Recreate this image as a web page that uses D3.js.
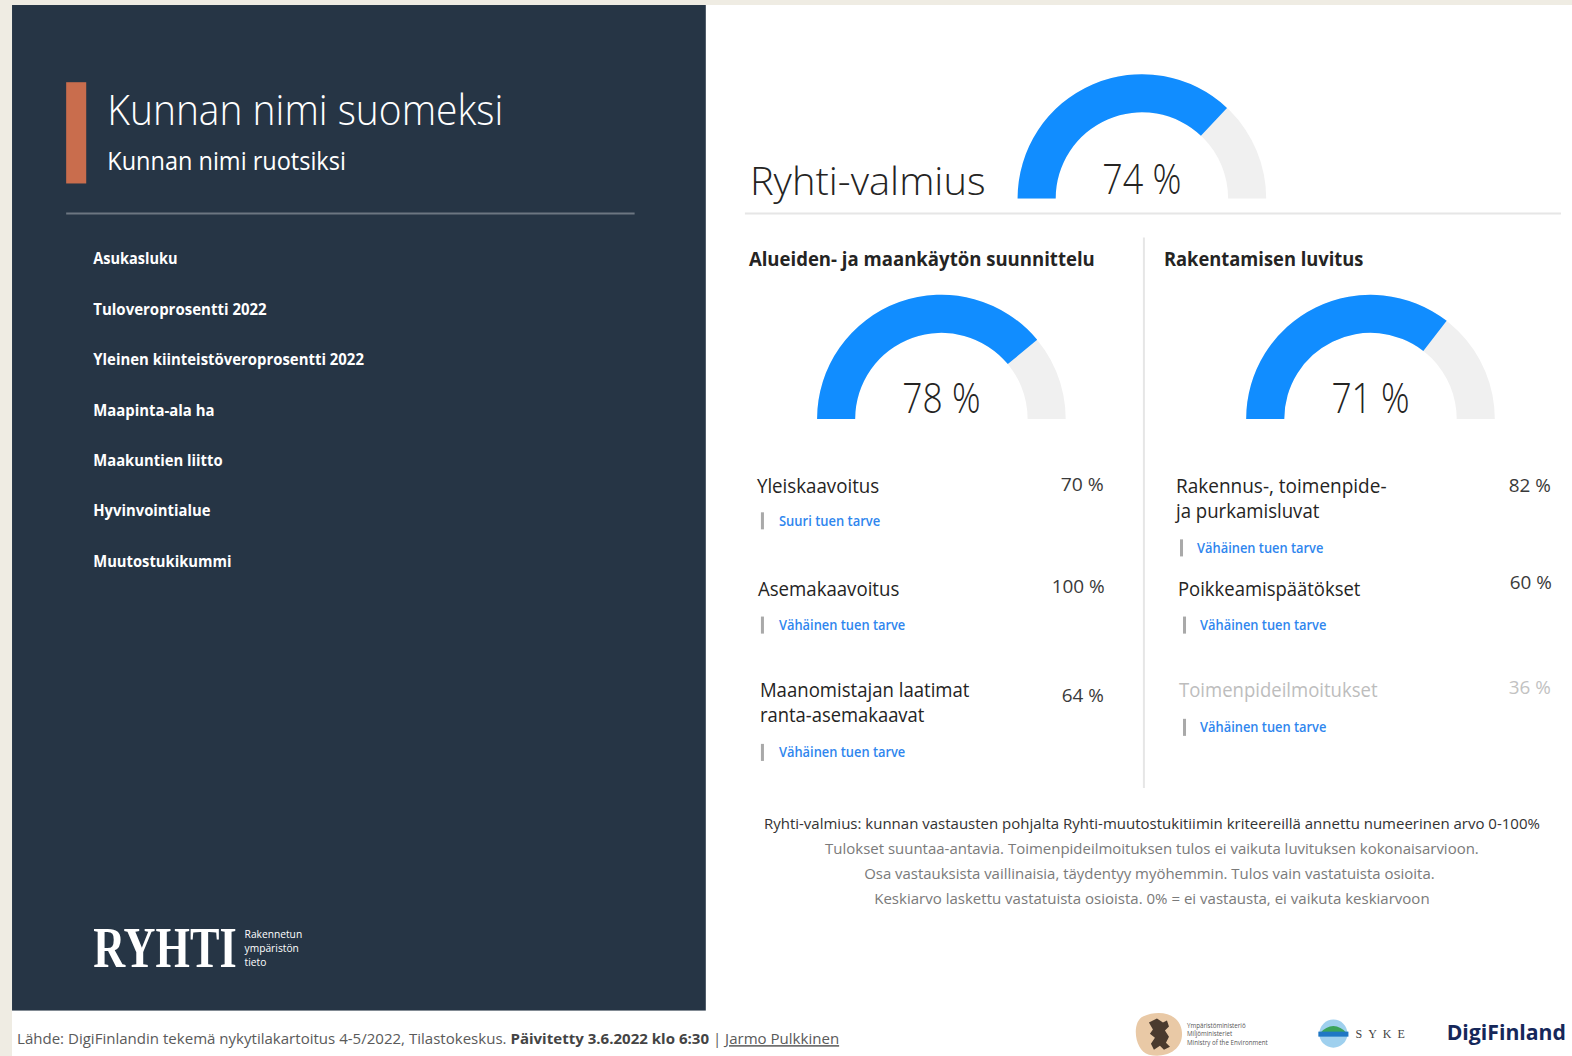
<!DOCTYPE html>
<html><head><meta charset="utf-8">
<script src="https://cdn.jsdelivr.net/npm/d3@7/dist/d3.min.js"></script>
<style>
body{margin:0;background:#efece3;}
svg{display:block;}
</style></head>
<body>
<svg id="c" width="1572" height="1056"></svg>
<script>
// ---------- DATA ----------
const municipalityName = "Kunnan nimi suomeksi";
const municipalityNameSv = "Kunnan nimi ruotsiksi";
const sideLabels = ["Asukasluku","Tuloveroprosentti 2022","Yleinen kiinteistöveroprosentti 2022","Maapinta-ala ha","Maakuntien liitto","Hyvinvointialue","Muutostukikummi"];
const overallLabel = "Ryhti-valmius";
const overallValue = 74;
const sectionTitles = ["Alueiden- ja maankäytön suunnittelu","Rakentamisen luvitus"];
const sectionValues = [78, 71];
const itemSections = [0,0,0,1,1,1];
const itemNames = [["Yleiskaavoitus"],["Asemakaavoitus"],["Maanomistajan laatimat","ranta-asemakaavat"],["Rakennus-, toimenpide-","ja purkamisluvat"],["Poikkeamispäätökset"],["Toimenpideilmoitukset"]];
const itemValues = [70,100,64,82,60,36];
const itemNeeds = ["Suuri tuen tarve","Vähäinen tuen tarve","Vähäinen tuen tarve","Vähäinen tuen tarve","Vähäinen tuen tarve","Vähäinen tuen tarve"];
const itemMuted = [false,false,false,false,false,true];
const footnotes = ["Ryhti-valmius: kunnan vastausten pohjalta Ryhti-muutostukitiimin kriteereillä annettu numeerinen arvo 0-100%","Tulokset suuntaa-antavia. Toimenpideilmoituksen tulos ei vaikuta luvituksen kokonaisarvioon.","Osa vastauksista vaillinaisia, täydentyy myöhemmin. Tulos vain vastatuista osioita.","Keskiarvo laskettu vastatuista osioista. 0% = ei vastausta, ei vaikuta keskiarvoon"];
const sourceParts = ["Lähde: DigiFinlandin tekemä nykytilakartoitus 4-5/2022, Tilastokeskus. ","Päivitetty 3.6.2022 klo 6:30"," | ","Jarmo Pulkkinen"];

// ---------- LAYOUT ----------
const root = d3.select("#c");
root.append("rect").attr("x",0).attr("y",0).attr("width",1572).attr("height",1056).attr("fill","#efece3");
const svg = root.append("g").attr("transform","scale(1.00255)")
  .style("font-family","'Segoe UI','Open Sans','Noto Sans',sans-serif");
const BLUE = "#118DFF", GREY = "#F0F0F0";
function fitW(t, w){ t.attr("textLength", w).attr("lengthAdjust","spacingAndGlyphs"); return t; }

// backgrounds
svg.append("rect").attr("x",12).attr("y",5).attr("width",1560).attr("height",1051).attr("fill","#ffffff");
svg.append("rect").attr("x",12).attr("y",5).attr("width",692).attr("height",1003).attr("fill","#263545");

// left panel
svg.append("rect").attr("x",66).attr("y",82).attr("width",20).attr("height",101).attr("fill","#c96d4d");
fitW(svg.append("text").attr("x",107).attr("y",125).attr("font-size",42).attr("font-weight",300).attr("fill","#fff").text(municipalityName),395);
fitW(svg.append("text").attr("x",107).attr("y",170).attr("font-size",25).attr("font-weight",400).attr("fill","#fff").text(municipalityNameSv),238);
svg.append("line").attr("x1",66).attr("x2",633).attr("y1",213).attr("y2",213).attr("stroke","#6c7681").attr("stroke-width",2);

const sideW = [84,173,270,121,129,117,138];
const sideY = d3.scaleLinear().domain([0, sideLabels.length-1]).range([263.5, 565.5]);
svg.selectAll("text.side").data(sideLabels).join("text").attr("class","side")
  .attr("x",93).attr("y",(d,i)=>sideY(i)).attr("font-size",15.5).attr("font-weight",700).attr("fill","#fff")
  .attr("textLength",(d,i)=>sideW[i]).attr("lengthAdjust","spacingAndGlyphs").text(d=>d);

// RYHTI logo
const ry = svg.append("g").attr("transform","translate(93,965) scale(1,1.3)");
fitW(ry.append("text").attr("x",0).attr("y",0).style("font-family","'Liberation Serif','DejaVu Serif',serif").attr("font-size",43.5).attr("font-weight",700).attr("fill","#fff").text("RYHTI"),143);
["Rakennetun","ympäristön","tieto"].forEach((s,i)=>{
  svg.append("text").attr("x",244).attr("y",936+i*14).attr("font-size",10.2).attr("fill","#fff").text(s);
});

// right panel
const pct = d3.scaleLinear().domain([0,100]).range([-Math.PI/2, Math.PI/2]);
const arc = d3.arc().innerRadius(86).outerRadius(124);
function gauge(cx, cy, v, lbl, labelW){
  const g = svg.append("g").attr("transform",`translate(${cx},${cy})`);
  g.append("path").attr("d", arc({startAngle:pct(0), endAngle:pct(100)})).attr("fill",GREY);
  g.append("path").attr("d", arc({startAngle:pct(0), endAngle:pct(v)})).attr("fill",BLUE);
  fitW(g.append("text").attr("x",0).attr("y",lbl).attr("text-anchor","middle").attr("font-size",43).attr("font-weight",300).attr("fill","#252423").text(v+" %"), labelW);
}
fitW(svg.append("text").attr("x",748).attr("y",195).attr("font-size",39).attr("font-weight",300).attr("fill","#252423").text(overallLabel),235);
gauge(1139, 198, overallValue, -5, 79);
svg.append("line").attr("x1",743).attr("x2",1557).attr("y1",213).attr("y2",213).attr("stroke","#e6e6e6").attr("stroke-width",2);
svg.append("line").attr("x1",1141).attr("x2",1141).attr("y1",237).attr("y2",786).attr("stroke","#e6e6e6").attr("stroke-width",2);

const secX = [747, 1161], secW = [345, 199], gaugeX = [939, 1367];
sectionTitles.forEach((t,i)=>{
  fitW(svg.append("text").attr("x",secX[i]).attr("y",265).attr("font-size",19).attr("font-weight",700).attr("fill","#252423").text(t), secW[i]);
  gauge(gaugeX[i], 418, sectionValues[i], -6, 78);
});

// items
const nameX = [755,756,758,1173,1175,1176];
const nameY = [492,594,695,492,594,695];
const nameW = [[122],[141],[209,164],[210,143],[182],[198]];
const valRight = [1101,1102,1101,1547,1548,1547];
const valY = [490,591,700,491,588,692];
const valW = [43,53,42,42,42,42];
const barX = [759,759,759,1177,1180,1180];
const barY = [511,615,742,538,615,717];
const needX = [777,777,777,1194,1197,1197];
const needW = [101,126,126,126,126,126];
itemNames.forEach((lines,i)=>{
  const col = itemMuted[i] ? "#bdbdbd" : "#252423";
  lines.forEach((ln,j)=>{
    fitW(svg.append("text").attr("x",nameX[i]).attr("y",nameY[i]+j*25).attr("font-size",19.5).attr("fill",col).text(ln), nameW[i][j]);
  });
  fitW(svg.append("text").attr("x",valRight[i]).attr("y",valY[i]).attr("text-anchor","end").attr("font-size",18).attr("fill",itemMuted[i]?"#c2c2c2":"#3a3a3a").text(itemValues[i]+" %"), valW[i]);
  svg.append("rect").attr("x",barX[i]).attr("y",barY[i]).attr("width",3).attr("height",17).attr("fill","#a9a9a9");
  fitW(svg.append("text").attr("x",needX[i]).attr("y",barY[i]+13.5).attr("font-size",13.5).attr("font-weight",600).attr("fill","#2f86ee").text(itemNeeds[i]), needW[i]);
});

// footnotes
const fnY = [827,851.5,876.5,902], fnW = [774,652,569,554], fnX=[1149,1149,1146.5,1149];
footnotes.forEach((f,i)=>{
  fitW(svg.append("text").attr("x",fnX[i]).attr("y",fnY[i]).attr("text-anchor","middle").attr("font-size",15).attr("fill",i===0?"#333":"#7a7a7a").text(f), fnW[i]);
});

// footer source
const src = svg.append("text").attr("x",17).attr("y",1041.5).attr("font-size",15).attr("fill","#5a5a5a");
src.append("tspan").text(sourceParts[0]);
src.append("tspan").attr("font-weight",700).attr("fill","#444").text(sourceParts[1]);
src.append("tspan").text(sourceParts[2]);
src.append("tspan").attr("text-decoration","underline").text(sourceParts[3]);
fitW(src, 820);

// logos
const lg = svg.append("g");
lg.append("path").attr("d","M1140,1014 C1158,1006 1178,1012 1179,1030 C1180,1048 1162,1056 1146,1052 C1132,1049 1128,1020 1140,1014 Z").attr("fill","#e9c9a6");
lg.append("path").attr("d","M1146,1020 l8,-4 l6,4 l4,-2 l2,6 l-4,4 l4,6 l-3,6 l4,4 l-6,3 l-4,-4 l-6,4 l-3,-6 l4,-6 l-5,-4 l3,-4 Z").attr("fill","#4a3a2e");
["Ympäristöministeriö","Miljöministeriet","Ministry of the Environment"].forEach((s,i)=>{
  svg.append("text").attr("x",1184).attr("y",1025+i*8.5).attr("font-size",6.2).attr("fill","#555").text(s);
});
lg.append("circle").attr("cx",1330).attr("cy",1031).attr("r",14).attr("fill","#9fd0ee");
lg.append("path").attr("d","M1316,1031 Q1330,1016 1344,1031 Z").attr("fill","#3aa35a");
lg.append("rect").attr("x",1315).attr("y",1029).attr("width",30).attr("height",5).attr("fill","#1f77c4");
svg.append("text").attr("x",1352).attr("y",1035).attr("font-size",12).attr("letter-spacing",6).attr("fill","#444").style("font-family","'Liberation Serif',serif").text("SYKE");
fitW(svg.append("text").attr("x",1443).attr("y",1037).attr("font-size",21).attr("font-weight",700).attr("fill","#15275a").text("DigiFinland"),119);
</script>
</body></html>
